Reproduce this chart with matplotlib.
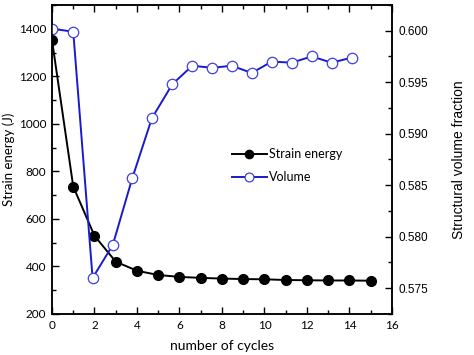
import matplotlib
matplotlib.use('Agg')
import matplotlib.pyplot as plt
from matplotlib.ticker import MultipleLocator, FormatStrFormatter

# strain energy per cycle
cycles = [0, 1, 2, 3, 4, 5, 6, 7, 8, 9, 10, 11, 12, 13, 14, 15]
strain_energy = [1352, 736, 529, 420, 382, 364, 356, 352, 349, 347, 346, 343, 342, 341, 341, 340]

# volume fraction (points sit a bit off the integer cycles)
vol_x = [0, 1.0, 1.91, 2.86, 3.78, 4.7, 5.66, 6.6, 7.53, 8.46, 9.4, 10.34, 11.28, 12.22, 13.16, 14.13]
volume = [0.6002, 0.5999, 0.5760, 0.5792, 0.5857, 0.5915, 0.5948, 0.5966, 0.5964, 0.5966,
          0.5959, 0.5970, 0.5969, 0.5975, 0.5969, 0.5974]

fig = plt.figure(figsize=(4.74, 3.55), dpi=100)
ax = fig.add_axes([0.1097, 0.1155, 0.7173, 0.8705])
ax2 = ax.twinx()

se_line, = ax.plot(cycles, strain_energy, color='black', lw=1.4, marker='o',
                   markersize=7, markerfacecolor='black', zorder=3)
v_line, = ax2.plot(vol_x, volume, color='#1a1acc', lw=1.4, marker='o',
                   markersize=7.5, markerfacecolor='white', markeredgecolor='#4040e0',
                   markeredgewidth=0.9)

ax.set_xlim(0, 16)
ax.set_ylim(200, 1500)
ax2.set_ylim(0.5725, 0.6025)

ax.xaxis.set_major_locator(MultipleLocator(2))
ax.xaxis.set_minor_locator(MultipleLocator(1))
ax.yaxis.set_major_locator(MultipleLocator(200))
ax.yaxis.set_minor_locator(MultipleLocator(100))
ax2.yaxis.set_major_locator(MultipleLocator(0.005))
ax2.yaxis.set_minor_locator(MultipleLocator(0.0025))
ax2.yaxis.set_major_formatter(FormatStrFormatter('%.3f'))

ax.tick_params(axis='x', which='both', top=True, labeltop=False)
ax.tick_params(which='both', direction='in', width=1)
ax.tick_params(which='major', length=5, labelsize=8.5, pad=4)
ax.tick_params(which='minor', length=3)
ax2.tick_params(which='both', direction='in', width=1)
ax2.tick_params(which='major', length=5, labelsize=8.5, pad=5)
ax2.tick_params(which='minor', length=3)

for t in ax.get_xticklabels() + ax.get_yticklabels():
    t.set_fontfamily('Lato')
for t in ax2.get_yticklabels():
    t.set_fontfamily('Liberation Sans')

for sp in ax.spines.values():
    sp.set_linewidth(1.1)
for sp in ax2.spines.values():
    sp.set_linewidth(1.1)

ax.set_xlabel('number of cycles', fontsize=10, family='Lato', labelpad=7)
ax.set_ylabel('Strain energy (J)', fontsize=9.5, family='Lato')
ax.yaxis.set_label_coords(-0.11, 0.5)
ax2.set_ylabel('Structural volume fraction', fontsize=10, family='Liberation Sans')
ax2.yaxis.set_label_coords(1.176, 0.5)

fig.legend([se_line, v_line], ['Strain energy', 'Volume'], loc='upper left',
           bbox_to_anchor=(0.465, 0.615), frameon=False,
           prop={'family': 'Lato', 'size': 9}, handlelength=2.8, handletextpad=0.2,
           labelspacing=0.9, markerscale=0.85)

fig.savefig('out.png', dpi=100)
